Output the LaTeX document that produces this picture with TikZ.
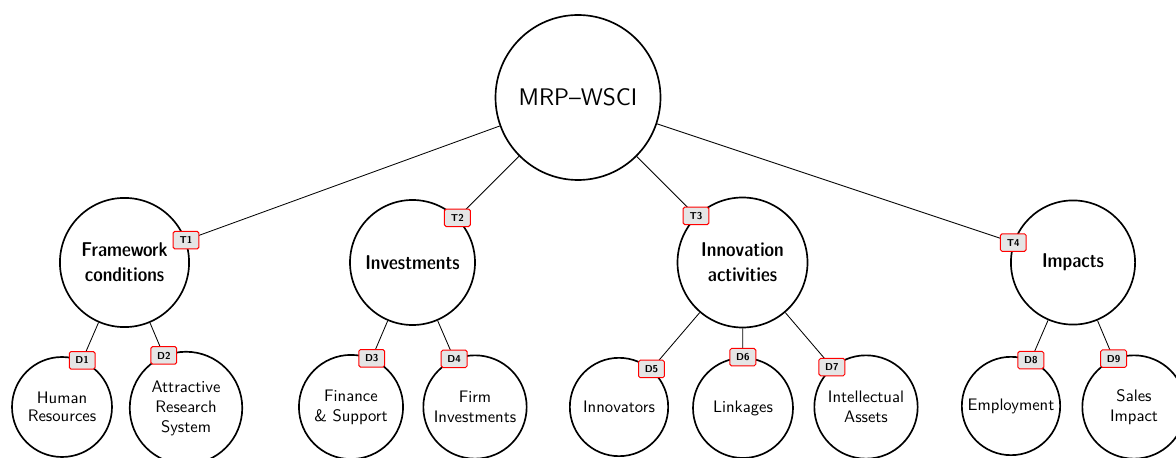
\documentclass[tikz,border=0pt]{standalone}

\begin{document}
\begin{tikzpicture}[x=0.6pt, y=0.6pt,
		hub/.style={draw, circle, line width=1pt, inner sep=1pt, align=center, font=\sffamily\Large, minimum size=99pt},
		topic/.style={draw, circle, line width=1pt, inner sep=1pt, align=center, font=\sffamily\large\fontseries{sbc}\selectfont, minimum size=75pt},
		leaf/.style={draw, circle, line width=1pt, inner sep=1pt, align=center, font=\sffamily, minimum size=60pt},
		badge/.style={draw=red, fill=black!10, line width=0.6pt, rounded corners=1pt, font=\sffamily\bfseries\fontsize{6}{7}\selectfont, inner sep=1pt, minimum width=15.5pt, minimum height=10.5pt, pos=1},
		branch/.style={line width=0.5pt}]
		\useasboundingbox (0,0) rectangle (1176,457);
		\node[hub] (wsci) at (578,359.5) {MRP--WSCI};
		\node[topic, minimum size=77.5pt] (frame) at (124.5,194.5) {Framework\\[1pt]conditions};
		\node[topic] (invest) at (412.5,194.5) {Investments};
		\node[topic, minimum size=78pt] (innov) at (742.5,194.5) {Innovation\\[1pt]activities};
		\node[topic, minimum size=74.5pt] (impact) at (1073,194.5) {Impacts};
		\node[leaf] (human) at (62,50) {Human\\[-1.5pt]Resources};
		\node[leaf, minimum size=67.5pt] (research) at (186,49) {Attractive\\Research\\System};
		\node[leaf, minimum size=62.5pt] (finance) at (351,50) {Finance\\\& Support};
		\node[leaf, minimum size=62pt] (firm) at (475,50) {Firm\\Investments};
		\node[leaf, minimum size=59pt] (innovators) at (619,50) {Innovators};
		\node[leaf] (linkages) at (743,49) {Linkages};
		\node[leaf, minimum size=62pt] (assets) at (866,50) {Intellectual\\Assets};
		\node[leaf, minimum size=59pt] (employ) at (1011,51) {Employment};
		\node[leaf, minimum size=62pt] (sales) at (1134,50) {Sales\\Impact};
		\foreach \a/\b/\t in {wsci/frame/T1, wsci/invest/T2, wsci/innov/T3, wsci/impact/T4, frame/human/D1, frame/research/D2, invest/finance/D3, invest/firm/D4, innov/innovators/D5, innov/linkages/D6, innov/assets/D7, impact/employ/D8, impact/sales/D9} {
			\draw[branch] (\a) -- (\b) node[badge] {\t};
		}
	\end{tikzpicture}
\end{document}
